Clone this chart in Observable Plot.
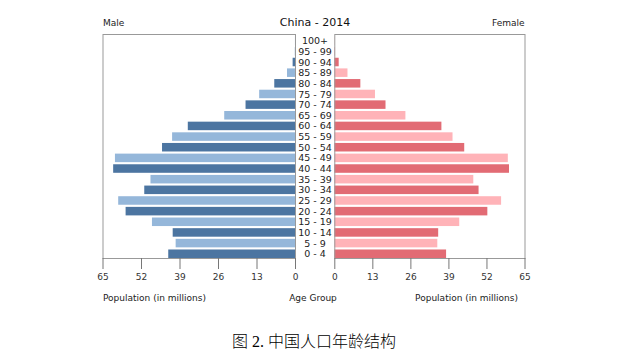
<!DOCTYPE html>
<html>
<head>
<meta charset="utf-8">
<script src="https://cdn.jsdelivr.net/npm/d3@7"></script>
<script src="https://cdn.jsdelivr.net/npm/@observablehq/plot@0.6"></script>
<style>
  html, body { margin: 0; padding: 0; background: #fff; }
  #chart { position: relative; width: 639px; height: 360px; font-family: "DejaVu Sans", sans-serif; color: #222; overflow: hidden; }
  .lbl { position: absolute; white-space: nowrap; line-height: 1; }
  .plotbox { position: absolute; top: 0; }
</style>
</head>
<body>
<div id="chart"></div>
<script>
// Age groups, bottom to top
const ageGroups = ["0 - 4","5 - 9","10 - 14","15 - 19","20 - 24","25 - 29","30 - 34","35 - 39","40 - 44","45 - 49","50 - 54","55 - 59","60 - 64","65 - 69","70 - 74","75 - 79","80 - 84","85 - 89","90 - 94","95 - 99","100+"];
// Population in millions
const male   = [42.8, 40.3, 41.3, 48.3, 57.2, 59.7, 50.9, 48.8, 61.4, 60.8, 44.9, 41.5, 36.2, 23.9, 16.7, 12.1, 7.0, 2.7, 0.8, 0.08, 0.01];
const female = [38.2, 35.2, 35.5, 42.7, 52.3, 57.0, 49.3, 47.5, 59.7, 59.3, 44.4, 40.4, 36.6, 24.3, 17.5, 13.9, 8.9, 4.5, 1.5, 0.25, 0.05];
const xTicks = [0, 13, 26, 39, 52, 65];
const titleText = "China - 2014";
const maleLabel = "Male";
const femaleLabel = "Female";
const xLabel = "Population (in millions)";
const midLabel = "Age Group";
const caption = "图 2. 中国人口年龄结构";

const maleColors = ["#4c75a1", "#95b7da"];
const femaleColors = ["#e26b74", "#ffb3b8"];

const maleRows = ageGroups.map((age, i) => ({age, value: male[i], shade: i % 2}));
const femaleRows = ageGroups.map((age, i) => ({age, value: female[i], shade: i % 2}));
const yDomain = ageGroups.slice().reverse();

const common = {
  height: 290,
  marginTop: 34,
  marginBottom: 32,
  style: {fontFamily: "DejaVu Sans", fontSize: "9px", background: "transparent", overflow: "visible", color: "#333"}
};
const yScale = {domain: yDomain, paddingInner: 0.2, paddingOuter: 0.115, align: 1, round: false};

const left = Plot.plot({
  ...common,
  width: 334,
  marginLeft: 102.5,
  marginRight: 39,
  x: {domain: [0, 65], reverse: true},
  y: yScale,
  color: {type: "ordinal", domain: [0, 1], range: maleColors},
  marks: [
    Plot.barX(maleRows, {x: "value", y: "age", fill: "shade"}),
    Plot.frame({stroke: "#999"}),
    Plot.axisX({ticks: xTicks, tickSize: 11, tickPadding: 4, label: null, stroke: "#777", fill: "#333"}),
    Plot.axisY({anchor: "right", tickSize: 0, tickPadding: 19.5, textAnchor: "middle", label: null, fill: "#222", fontSize: "9.5px"})
  ]
});

const right = Plot.plot({
  ...common,
  width: 315,
  marginLeft: 10.3,
  marginRight: 114.5,
  x: {domain: [0, 65]},
  y: {...yScale, axis: null},
  color: {type: "ordinal", domain: [0, 1], range: femaleColors},
  marks: [
    Plot.barX(femaleRows, {x: "value", y: "age", fill: "shade"}),
    Plot.frame({stroke: "#999"}),
    Plot.axisX({ticks: xTicks, tickSize: 11, tickPadding: 4, label: null, stroke: "#777", fill: "#333"})
  ]
});

const chart = document.getElementById("chart");
const lb = document.createElement("div"); lb.className = "plotbox"; lb.style.left = "0px"; lb.appendChild(left);
const rb = document.createElement("div"); rb.className = "plotbox"; rb.style.left = "324px"; rb.appendChild(right);
chart.appendChild(lb); chart.appendChild(rb);

function addLabel(text, opts) {
  const d = document.createElement("div");
  d.className = "lbl";
  d.textContent = text;
  Object.assign(d.style, opts);
  chart.appendChild(d);
}
addLabel(titleText, {left: "315px", top: "17px", fontSize: "11px", transform: "translateX(-50%)", color: "#111"});
addLabel(maleLabel, {left: "103px", top: "18.5px", fontSize: "9px", color: "#222"});
addLabel(femaleLabel, {right: (639 - 524.5) + "px", top: "18.5px", fontSize: "9px", color: "#222"});
addLabel(xLabel, {left: "103px", top: "293.5px", fontSize: "9px", color: "#222"});
addLabel(midLabel, {left: "313px", top: "293.5px", fontSize: "9px", transform: "translateX(-50%)", color: "#222"});
addLabel(xLabel, {right: (639 - 518) + "px", top: "293.5px", fontSize: "9px", color: "#222"});
addLabel(caption, {left: "314px", top: "333.5px", fontSize: "16px", fontWeight: "300", transform: "translateX(-50%)", color: "#000", fontFamily: "\"Liberation Serif\", \"Noto Sans CJK SC\", serif"});
</script>
</body>
</html>
